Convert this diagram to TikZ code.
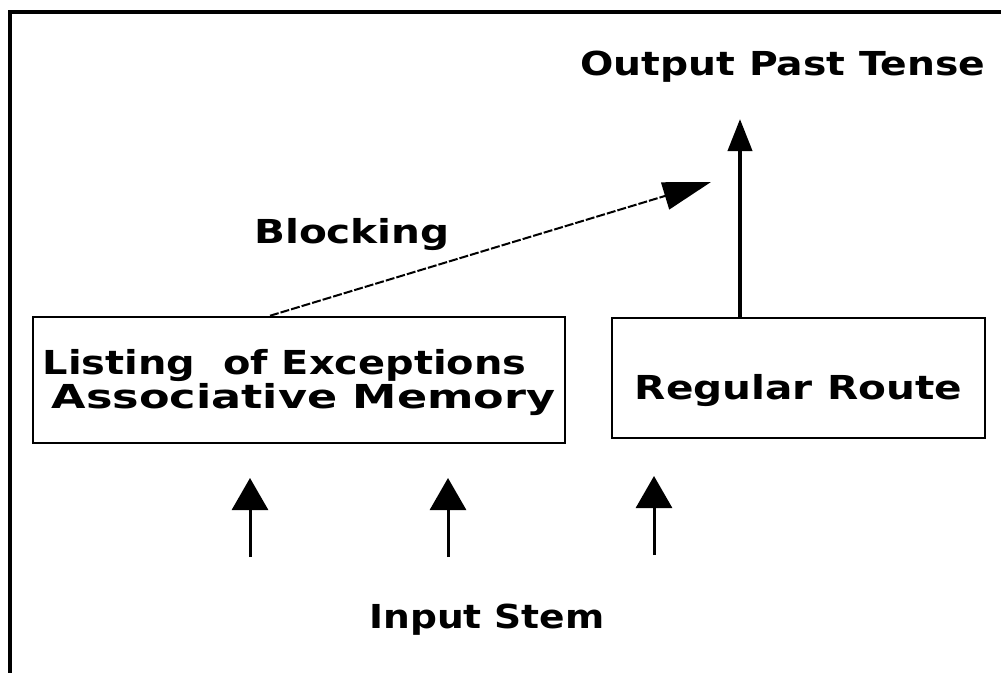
\documentclass[tikz,border=0pt]{standalone}
\usepackage{fontspec}
\setmainfont{DejaVu Sans}
\usepackage{graphicx}
\usetikzlibrary{arrows.meta}
\newcommand{\stretchx}[2]{\scalebox{#1}[1]{#2}}

\begin{document}
\begin{tikzpicture}[x=1pt,y=-1pt,
  lbl/.style={font=\fontsize{33}{34}\selectfont\bfseries, inner sep=0pt, anchor=base},
  boxnode/.style={draw, line width=2.5pt, inner sep=0pt,
    font=\fontsize{33}{34}\selectfont\bfseries},
  thickarrow/.style={line width=4pt, -{Triangle[width=24pt,length=32pt]}},
  inarrow/.style={line width=3pt, -{Triangle[width=36pt,length=32pt]}},
  blockarrow/.style={line width=2pt, dash pattern=on 9pt off 2pt,
    -{Triangle[width=28pt,length=48pt]}}]
\useasboundingbox (0,0) rectangle (1001,672);
\fill[white] (0,0) rectangle (1001,672);

% frame (left and top edges)
\draw[line width=4pt] (10,700) -- (10,11.5) -- (1030,11.5);

% the two routes
\node[boxnode, minimum width=532pt, minimum height=126pt, align=left] (lex) at (299,380)
  {\rule{0pt}{30pt}\stretchx{1.21}{Listing\ \ of Exceptions}\\
   \hspace*{9pt}\stretchx{1.35}{Associative Memory}};
\node[boxnode, minimum width=373pt, minimum height=120pt,
      text height=42pt, text depth=0pt] (reg) at (798.5,378)
  {\stretchx{1.23}{Regular Route}};

% labels
\node[lbl] (out) at (783,75) {\stretchx{1.19}{Output Past Tense}};
\node[lbl] (blk) at (352,243) {\stretchx{1.23}{Blocking}};
\node[lbl] (inp) at (487,628) {\stretchx{1.14}{Input Stem}};

% arrow end points
\coordinate (otip) at (740,119);
\coordinate (bstart) at (270,0);
\coordinate (btip) at (711,182);
\coordinate (ia) at (250,557);
\coordinate (iat) at (250,478);
\coordinate (ib) at (448,557);
\coordinate (ibt) at (448,478);
\coordinate (ic) at (654,555);
\coordinate (ict) at (654,476);

% connectors
\draw[thickarrow] (reg.north -| otip) -- (otip);
\draw[blockarrow] (lex.north -| bstart) -- (btip);
\draw[inarrow] (ia) -- (iat);
\draw[inarrow] (ib) -- (ibt);
\draw[inarrow] (ic) -- (ict);
\end{tikzpicture}
\end{document}
